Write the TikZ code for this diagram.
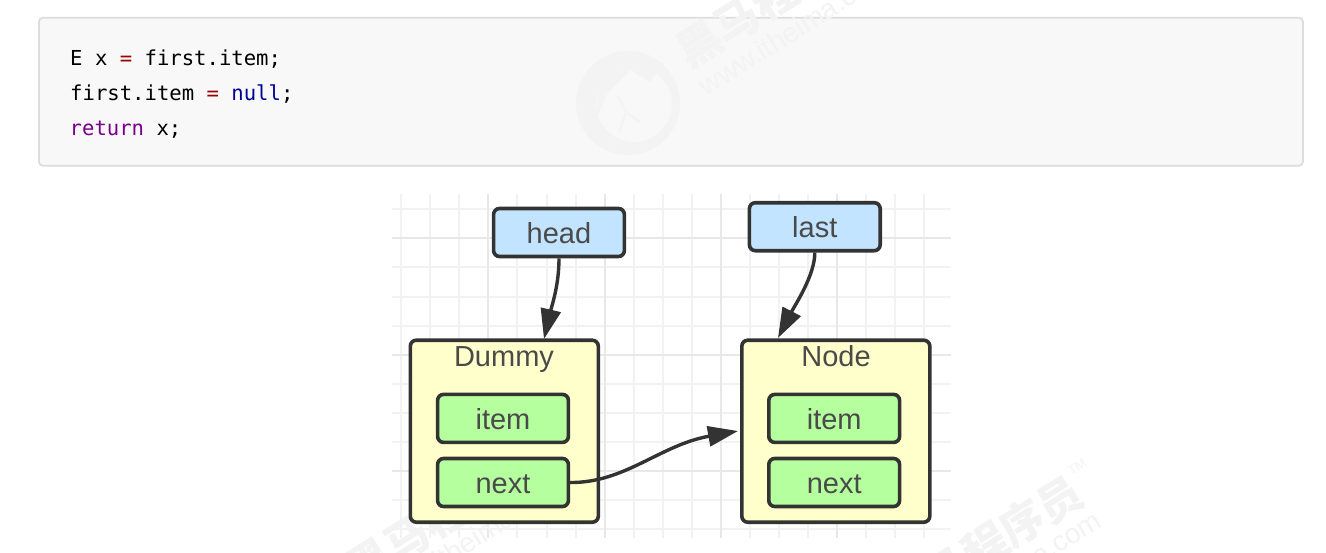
\documentclass[tikz,border=0pt]{standalone}
\usepackage{fontspec}
\setmainfont{Liberation Sans}
\newfontfamily\codefont{DejaVu Sans Mono}
\newfontfamily\cjk{Noto Sans CJK SC}
\usetikzlibrary{arrows.meta}
\definecolor{ink}{HTML}{333333}
\definecolor{txt}{HTML}{4A4A4A}
\definecolor{minor}{HTML}{F2F2F2}
\definecolor{major}{HTML}{E8E8E8}
\definecolor{codebg}{HTML}{F8F8F8}
\definecolor{codeborder}{HTML}{DDDDDD}
\definecolor{kwred}{HTML}{990000}
\definecolor{kwblue}{HTML}{000099}
\definecolor{kwpurple}{HTML}{770088}
\definecolor{wm}{HTML}{F3F3F3}
\definecolor{ptrblue}{HTML}{C2E4FF}
\definecolor{groupyellow}{HTML}{FFFFCC}
\definecolor{fieldgreen}{HTML}{B5FF9E}
\tikzset{
 x=1pt,y=-1pt,
 codeline/.style={anchor=base west,inner sep=0pt,font=\codefont\fontsize{20.6}{24}\selectfont,text=black},
 roundbox/.style={draw=ink,line width=3.6pt,rounded corners=6pt,text=txt,font=\fontsize{29}{32}\selectfont,inner sep=0pt,anchor=center,text height=22pt,text depth=0pt},
 ptr/.style={roundbox,fill=ptrblue,minimum width=130.8pt,minimum height=48pt},
 group/.style={roundbox,fill=groupyellow,minimum width=188pt,minimum height=182pt},
 field/.style={roundbox,fill=fieldgreen,minimum width=130.8pt,minimum height=48pt},
 title/.style={text=txt,font=\fontsize{29}{32}\selectfont,inner sep=0pt,anchor=center,text height=22pt,text depth=0pt},
 conn/.style={draw=ink,line width=3.4pt,-{Triangle[length=30pt,width=20pt]}},
 wmcjk/.style={text=wm,inner sep=0pt,anchor=center,rotate=32,font=\cjk\bfseries\fontsize{44}{46}\selectfont},
 wmurl/.style={text=wm,inner sep=0pt,anchor=center,rotate=32,font=\fontsize{28}{30}\selectfont},
 wmtm/.style={text=wm,inner sep=0pt,anchor=center,rotate=32,font=\fontsize{13}{14}\selectfont},
}
\begin{document}
\begin{tikzpicture}
\useasboundingbox (0,0) rectangle (1326,552);
\fill[white] (0,0) rectangle (1326,552);
% code block
\node[draw=codeborder,fill=codebg,line width=1.8pt,rounded corners=4pt,minimum width=1264pt,minimum height=148pt,inner sep=0pt,anchor=north west] (code) at (38,16.8) {};
\node[codeline] (l1) at (70,65) {E x {\color{kwred}=} first.item;};
\node[codeline] (l2) at (70,100) {first.item {\color{kwred}=} {\color{kwblue}null};};
\node[codeline] (l3) at (69.5,135) {{\color{kwpurple}return} x;};
% top watermark
\node[wmcjk] (wm1) at (774,-3) {黑马程序员};
\node[wmurl] (wm2) at (794,30) {www.itheima.com};
\fill[wm,even odd rule] (628,103) circle (52pt) (634,104) circle (38pt);
\fill[wm] (600,75) -- (612,60) -- (618,72) -- (632,54) -- (638,68) -- (664,62) -- (650,82) -- (630,70) -- (608,92) -- (596,120) -- cycle;
\draw[wm,line width=2pt,line cap=round] (618,96) -- (626,112) -- (640,122) (626,112) -- (620,131);
% grid
\foreach \gx in {400.7,430,459,517,547,576,634,663,692,750,779,808,866,895,924}
  \draw[minor,line width=1.6pt] (\gx,194) -- (\gx,538);
\foreach \gy in {209,267,297,326,384,413,442,500,529}
  \draw[minor,line width=1.6pt] (392,\gy) -- (951,\gy);
\foreach \gx in {488,605,721,837}
  \draw[major,line width=1.6pt] (\gx,194) -- (\gx,538);
\foreach \gy in {238,355,471}
  \draw[major,line width=1.6pt] (392,\gy) -- (951,\gy);
% bottom watermarks
\node[wmcjk] (wm3) at (444,515) {黑马程序员};
\node[wmurl] (wm4) at (471,540) {www.itheima.com};
\node[wmcjk] (wm5) at (985,546) {黑马程序员};
\node[wmurl] (wm6) at (1006,575) {www.itheima.com};
\node[wmtm] (wm7) at (1077,467) {TM};
% boxes
\node[ptr] (head) at (559,232.5) {head};
\node[ptr] (last) at (814.8,226.7) {last};
\node[group] (dummy) at (504.3,431.2) {};
\node[group] (nodebox) at (835.8,431.2) {};
\node[title] (dummyt) at (504,355) {Dummy};
\node[title] (nodet) at (836,355) {Node};
\node[field] (i1) at (503,418.4) {item};
\node[field] (n1) at (503,482.5) {next};
\node[field] (i2) at (834.2,418.4) {item};
\node[field] (n2) at (834.2,482.5) {next};
% connectors
\coordinate (hd) at (544,339);
\coordinate (ld) at (778,338);
\coordinate (nd) at (738,431);
\draw[conn] (head.south) .. controls (559,285) and (552,305) .. (hd);
\draw[conn] (last.south) .. controls (815,275) and (795,305) .. (ld);
\draw[conn] (n1.east) .. controls (625,483) and (660,445) .. (nd);
\end{tikzpicture}
\end{document}
